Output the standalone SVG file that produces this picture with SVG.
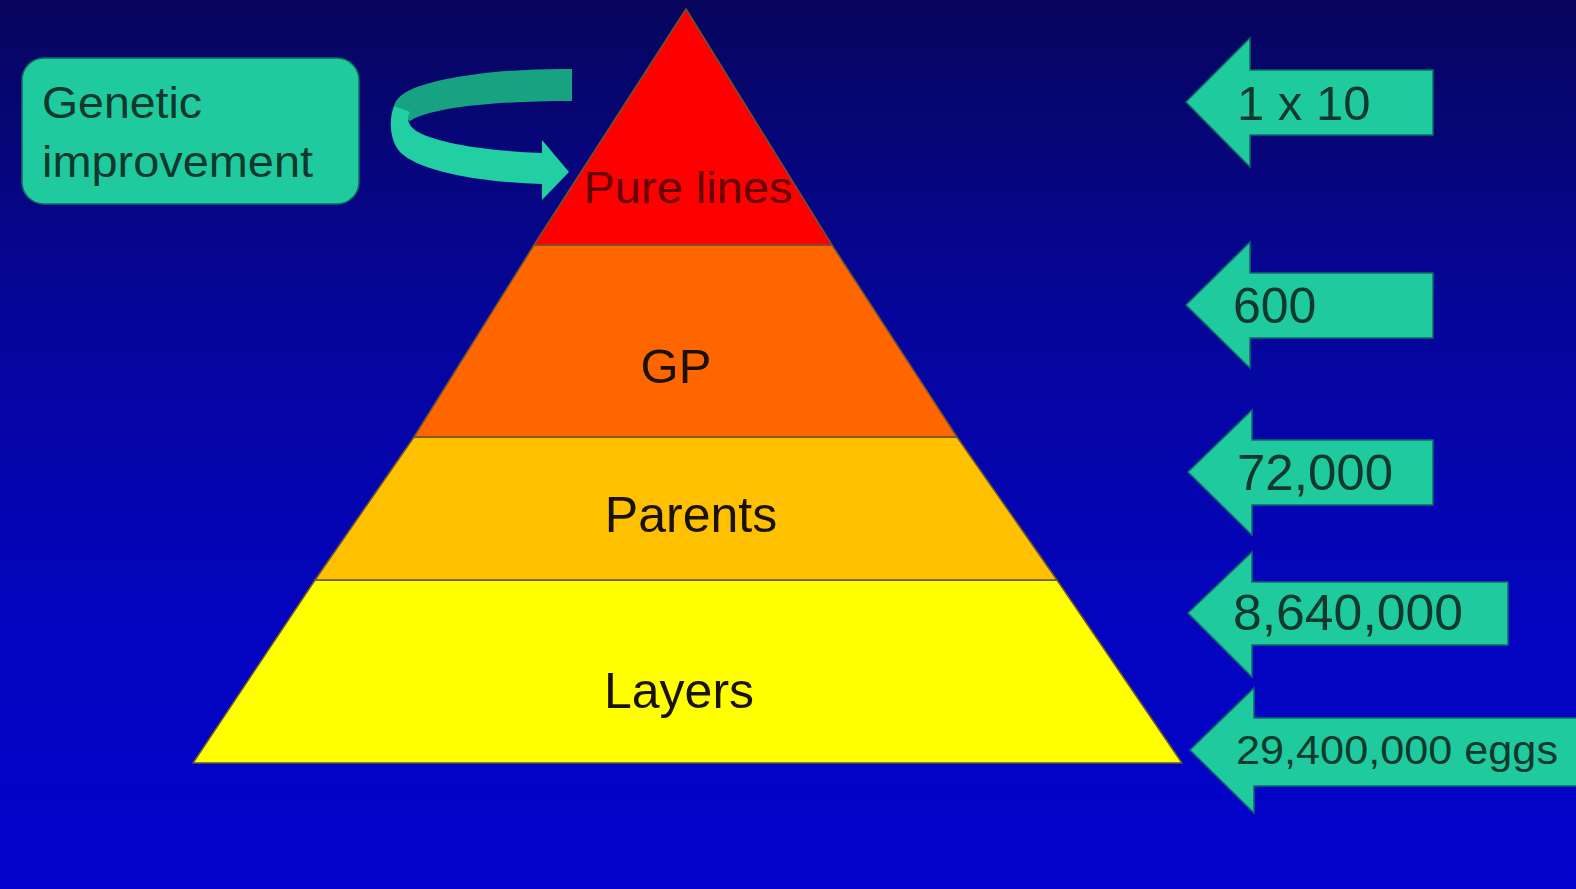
<svg xmlns="http://www.w3.org/2000/svg" width="1576" height="889" viewBox="0 0 1576 889">
<defs>
<linearGradient id="bg" x1="0" y1="0" x2="0" y2="1">
<stop offset="0" stop-color="#07055c"/>
<stop offset="0.35" stop-color="#06069a"/>
<stop offset="0.7" stop-color="#0404bf"/>
<stop offset="1" stop-color="#0202cc"/>
</linearGradient>
<style>
.teal{fill:#1fcb9e;stroke:#0d6e62;stroke-width:1.5}
.band{stroke:#6b5530;stroke-width:1.5;stroke-linejoin:round}
.lbl{font-family:"Liberation Sans",Arial,sans-serif;fill:#10382c}
.plbl{font-family:"Liberation Sans",Arial,sans-serif;fill:#1a1208;text-anchor:middle}
</style>
</defs>
<rect width="1576" height="889" fill="url(#bg)"/>

<g id="pyramid">
<g id="layers">
<polygon class="band" points="315,580 1057,580 1182,763 193,763" fill="#ffff00"/>
<text class="plbl" x="679" y="708" font-size="50">Layers</text>
</g>
<g id="parents">
<polygon class="band" points="414,437 957,437 1057,580 315,580" fill="#ffc000"/>
<text class="plbl" x="691" y="532" font-size="50">Parents</text>
</g>
<g id="gp">
<polygon class="band" points="534,245 832,245 957,437 414,437" fill="#ff6600"/>
<text class="plbl" x="676" y="383" font-size="49">GP</text>
</g>
<g id="pure-lines">
<polygon class="band" points="686,9 832,245 534,245" fill="#ff0000"/>
<text class="plbl" x="688" y="203" font-size="44" style="fill:#640000" textLength="209" lengthAdjust="spacingAndGlyphs">Pure lines</text>
</g>
</g>

<g id="genetic-improvement">
<rect class="teal" x="22" y="58" width="337" height="146" rx="22"/>
<text class="lbl" x="42" y="118" font-size="45" textLength="160" lengthAdjust="spacingAndGlyphs">Genetic</text>
<text class="lbl" x="42" y="177" font-size="45" textLength="271" lengthAdjust="spacingAndGlyphs">improvement</text>
</g>

<g id="connectors">
<path d="M572,69 C510,68 440,76 410,90 C398,96 393,103 394,110 L410,121 C430,108 490,101 572,101 Z" fill="#17a382"/>
<path d="M394,106 C389,118 389,140 400,152 C420,172 480,182 542,184 L542,200 L569,172 L542,140 L542,153 C490,151 440,144 418,132 C408,126 406,118 410,112 Z" fill="#22cfa2"/>
</g>

<g id="count-pure-lines">
<polygon class="teal" points="1186,102 1250,38 1250,70 1433,70 1433,135 1250,135 1250,167"/>
<text class="lbl" x="1237" y="120" font-size="49">1 x 10</text>
</g>
<g id="count-gp">
<polygon class="teal" points="1186,305 1250,242 1250,273 1433,273 1433,338 1250,338 1250,368"/>
<text class="lbl" x="1233" y="323" font-size="50">600</text>
</g>
<g id="count-parents">
<polygon class="teal" points="1188,472 1252,410 1252,440 1433,440 1433,505 1252,505 1252,535"/>
<text class="lbl" x="1237" y="490" font-size="50" textLength="156" lengthAdjust="spacingAndGlyphs">72,000</text>
</g>
<g id="count-layers">
<polygon class="teal" points="1188,613 1252,552 1252,582 1508,582 1508,645 1252,645 1252,677"/>
<text class="lbl" x="1233" y="630" font-size="50" textLength="230" lengthAdjust="spacingAndGlyphs">8,640,000</text>
</g>
<g id="count-eggs">
<polygon class="teal" points="1190,750 1254,688 1254,718 1578,718 1578,786 1254,786 1254,813"/>
<text class="lbl" x="1236" y="764" font-size="40" textLength="322" lengthAdjust="spacingAndGlyphs">29,400,000 eggs</text>
</g>
</svg>
